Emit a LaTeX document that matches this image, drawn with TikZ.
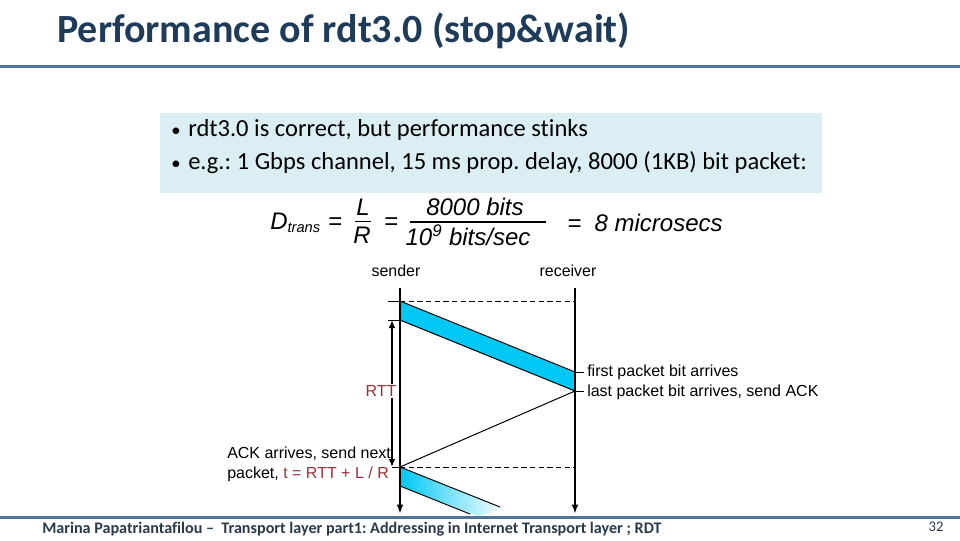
\documentclass[tikz,border=0pt]{standalone}
\usepackage{fontspec}
\setmainfont{Carlito}[Ligatures={NoCommon}]
\newfontfamily\arialfont{Liberation Sans}
\frenchspacing
\usetikzlibrary{arrows.meta,positioning}
\definecolor{sltitle}{HTML}{1F3B5A}
\definecolor{slrule}{HTML}{4F7499}
\definecolor{slbox}{HTML}{DBEEF3}
\definecolor{slfoot}{HTML}{2B3A4A}
\definecolor{pktcyan}{HTML}{00C8F5}
\definecolor{rttred}{HTML}{9E3034}

\begin{document}
\begin{tikzpicture}[x=0.75pt,y=-0.75pt,
  lbl/.style={font=\arialfont\fontsize{12}{14}\selectfont,inner sep=0pt},
  frm/.style={font=\arialfont\itshape\fontsize{18}{20}\selectfont,inner sep=0pt},
  itm/.style={font=\fontsize{18.4}{21}\selectfont,inner sep=0pt,anchor=base west},
  axis/.style={line width=1.5pt,-{Latex[length=7pt,width=5pt]}},
  fine/.style={line width=0.75pt},
  guide/.style={line width=0.75pt,dash pattern=on 4pt off 2.5pt},
  rtt/.style={line width=1.5pt,{Latex[length=6pt,width=5pt]}-{Latex[length=6pt,width=5pt]}},
  srule/.style={draw=slrule,line width=2.25pt}
]
\useasboundingbox (0,0) rectangle (960,540);

\node[anchor=west,text=sltitle,font=\bfseries\fontsize{30}{33}\selectfont,inner sep=0pt] (title) at (57,31) {Performance of rdt3.0 (stop\&wait)};
\draw[srule] (0,66) -- (960,66);

\node[fill=slbox,anchor=north west,minimum width=496.5pt,minimum height=60pt,inner sep=0pt] (intro) at (160,113) {};
\node[itm,font=\fontsize{14}{16}\selectfont] (dot1) at (171,136) {\textbullet};
\node[itm] (item1) at (188,136) {rdt3.0 is correct, but performance stinks};
\node[itm,font=\fontsize{14}{16}\selectfont] (dot2) at (171,169) {\textbullet};
\node[itm] (item2) at (188,169) {e.g.: 1 Gbps channel, 15 ms prop. delay, 8000 (1KB) bit packet:};

\node[frm,anchor=base west] (dtrans) at (270,229) {D\textsubscript{\fontsize{11}{12}\selectfont trans}};
\node[frm,anchor=base west,font=\arialfont\fontsize{18}{20}\selectfont] (eq1) at (328,229) {=};
\node[frm,anchor=base] (lnum) at (363,215) {L};
\node[frm,anchor=base] (rden) at (362,243) {R};
\draw[fine] (355,221) -- (371,221);
\node[frm,anchor=base west,font=\arialfont\fontsize{18}{20}\selectfont] (eq2) at (384,229) {=};
\node[frm,anchor=base] (bitsnum) at (475,215) {8000 bits};
\node[frm,anchor=base] (bitsden) at (468,245) {10\textsuperscript{9} bits/sec};
\draw[line width=1.1pt] (410,222) -- (546,222);
\node[frm,anchor=base west] (result) at (567,231) {=\ \ 8 microsecs};

\node[lbl] (snd) at (396,271) {sender};
\node[lbl] (rcv) at (568,271) {receiver};

\coordinate (s0) at (400,288);
\coordinate (s1) at (400,514);
\coordinate (r0) at (575,288);
\coordinate (r1) at (575,514);
\coordinate (p1) at (400,301);
\coordinate (p2) at (400,320);
\coordinate (q1) at (575,372);
\coordinate (q2) at (575,391);
\coordinate (a1) at (400,467);
\coordinate (a2) at (400,486);

\fill[pktcyan] (p1) -- (q1) -- (q2) -- (p2) -- cycle;
\draw[fine] (p1) -- (q1) (p2) -- (q2);
\shade[left color=pktcyan,right color=white] (a1) -- (505,509) -- (478,516) -- (a2) -- cycle;
\draw[fine] (a1) -- (500,507) (a2) -- (470,514);

\draw[fine] (388,301) -- (p1);
\draw[guide] (p1) -- (575,301);
\draw[fine] (388,320) -- (p2);
\draw[fine] (392,467) -- (a1);
\draw[guide] (a1) -- (575,467);
\draw[fine] (q2) -- (a1);

\draw[axis] (s0) -- (s1);
\draw[axis] (r0) -- (r1);
\draw[rtt] (392,320) -- (392,467);
\node[lbl,fill=white,text=rttred,inner sep=1pt] (rttlbl) at (381,391) {RTT};

\draw[fine] (q1) -- (584,372);
\draw[fine] (q2) -- (584,391);
\node[lbl,anchor=west] (first) at (587,372) {first packet bit arrives};
\node[lbl,anchor=west] (last) at (587,392) {last packet bit arrives, send ACK};
\node[lbl,anchor=west] (ack1) at (227,454) {ACK arrives, send next};
\node[lbl,anchor=west] (ack2) at (227,474) {packet, \textcolor{rttred}{t = RTT + L / R}};

\draw[srule] (0,517) -- (960,517);
\node[anchor=west,text=slfoot,font=\bfseries\fontsize{12.1}{14}\selectfont,inner sep=0pt] (foot) at (42,529) {Marina Papatriantafilou --\ \ Transport layer part1: Addressing in Internet Transport layer ; RDT};
\node[text=slfoot,font=\fontsize{11}{13}\selectfont,inner sep=0pt] (page) at (936,527) {32};
\end{tikzpicture}
\end{document}
